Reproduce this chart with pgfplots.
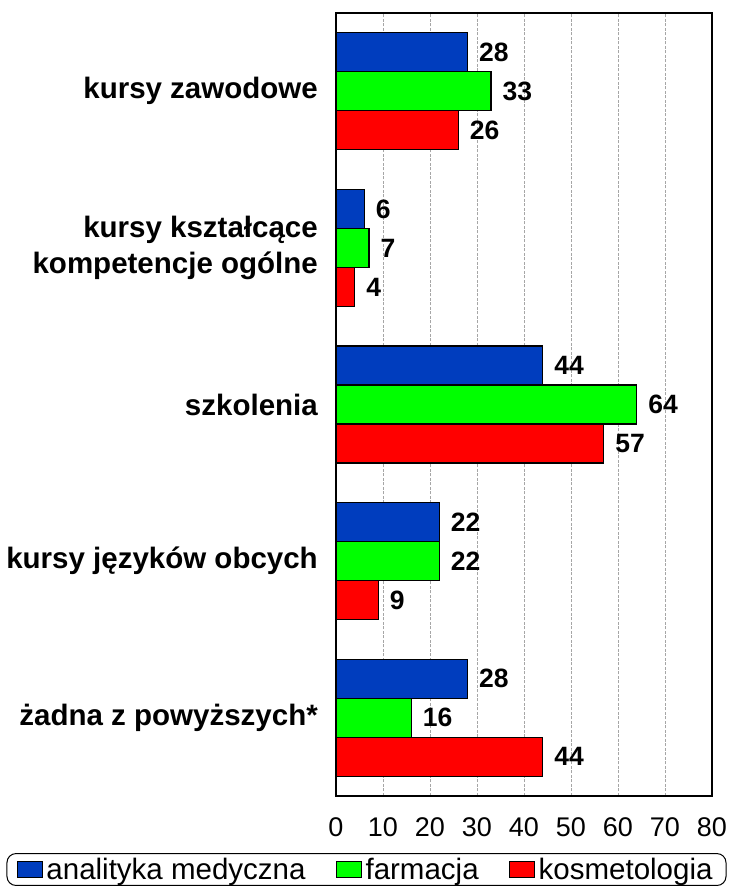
\documentclass[border=0pt]{standalone}
\usepackage{fontspec}
\setmainfont{Liberation Sans}
\usepackage{pgfplots}
\pgfplotsset{compat=1.18}
\definecolor{cblue}{RGB}{0,61,190}
\definecolor{cgreen}{RGB}{0,255,0}
\definecolor{cred}{RGB}{255,0,0}
\begin{document}
\begin{tikzpicture}[x=1pt,y=1pt]
\path[use as bounding box] (0,0) rectangle (730,891);
\begin{axis}[
  at={(336pt,95pt)}, anchor=south west,
  scale only axis, width=376pt, height=783pt,
  xbar, bar width=39pt,
  xmin=0, xmax=80, ymin=-0.5, ymax=4.5,
  xtick={0,10,...,80}, ytick={0,1,2,3,4},
  yticklabels={{żadna z powyższych*},{kursy języków obcych},{szkolenia},{kursy kształcące\\kompetencje ogólne},{kursy zawodowe}},
  major tick length=0pt,
  xmajorgrids,
  major grid style={gray!70, line width=0.8pt, dash pattern=on 3pt off 1.5pt},
  axis line style={line width=1.5pt},
  /pgf/number format/assume math mode=true,
  xticklabel style={font=\fontsize{27}{30}\selectfont, inner sep=0pt, anchor=north, yshift=-21pt},
  yticklabel style={font=\bfseries\fontsize{29.5}{36}\selectfont, align=right, inner sep=0pt, anchor=east, xshift=-18pt},
  nodes near coords, point meta=x,
  every node near coord/.append style={font=\bfseries\fontsize{26.5}{30}\selectfont, anchor=west, inner sep=0pt, xshift=11pt, text=black},
  legend image code/.code={\draw[#1, sharp corners, line width=1pt] (0pt,-8pt) rectangle (25pt,8pt);},
  legend columns=3,
  legend style={at={(0.0811,-0.0939)}, anchor=center, draw=black, line width=1pt,
    rounded corners=9pt, font=\fontsize{29.5}{33}\selectfont,
    inner xsep=10pt, inner ysep=4.5pt,
    nodes={inner xsep=3.5pt, inner ysep=0pt},
    /tikz/every even column/.append style={column sep=27pt}},
]
\addplot[fill=cblue, draw=black, line width=1.2pt, bar shift=39pt] coordinates {(28,4) (6,3) (44,2) (22,1) (28,0)};
\addlegendentry{analityka medyczna}
\addplot[fill=cgreen, draw=black, line width=1.2pt, bar shift=0pt] coordinates {(33,4) (7,3) (64,2) (22,1) (16,0)};
\addlegendentry{farmacja}
\addplot[fill=cred, draw=black, line width=1.2pt, bar shift=-39pt] coordinates {(26,4) (4,3) (57,2) (9,1) (44,0)};
\addlegendentry{kosmetologia}
\end{axis}
\end{tikzpicture}
\end{document}
